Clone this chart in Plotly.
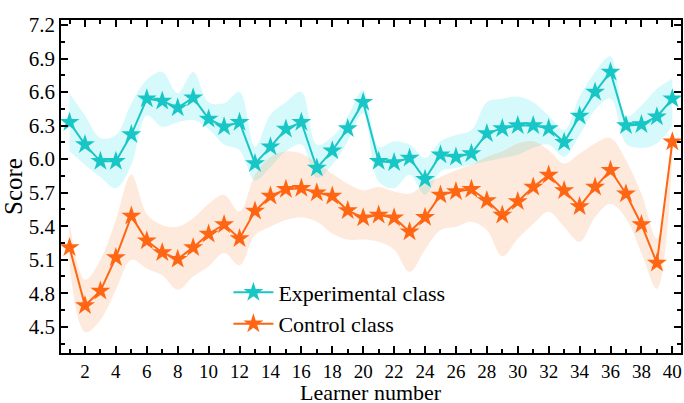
import plotly.graph_objects as go

learners = list(range(1, 41))

exp_scores = [6.33, 6.13, 5.98, 5.98, 6.22, 6.54, 6.52, 6.46, 6.55, 6.36,
              6.29, 6.33, 5.96, 6.11, 6.27, 6.33, 5.92, 6.075, 6.275, 6.51,
              5.98, 5.97, 6.01, 5.82, 6.04, 6.02, 6.05, 6.23, 6.275, 6.30,
              6.30, 6.275, 6.15, 6.385, 6.60, 6.78, 6.30, 6.31, 6.38, 6.54]

exp_upper = [6.59, 6.39, 6.19, 6.215, 6.50, 6.71, 6.78, 6.59, 6.78, 6.51,
             6.50, 6.60, 6.11, 6.40, 6.51, 6.60, 6.13, 6.20, 6.38, 6.62,
             6.11, 6.16, 6.13, 6.01, 6.16, 6.215, 6.26, 6.51, 6.54, 6.56,
             6.51, 6.39, 6.26, 6.56, 6.78, 6.92, 6.38, 6.48, 6.63, 6.72]

exp_lower = [6.07, 5.95, 5.84, 5.74, 5.95, 6.39, 6.29, 6.33, 6.35, 6.27,
             6.13, 6.08, 5.81, 5.93, 6.07, 6.13, 5.83, 5.95, 6.16, 6.41,
             5.80, 5.74, 5.86, 5.68, 5.89, 5.92, 5.95, 5.98, 6.01, 6.04,
             6.10, 6.13, 6.02, 6.215, 6.44, 6.54, 6.14, 6.10, 6.14, 6.30]

ctl_scores = [5.21, 4.69, 4.82, 5.12, 5.49, 5.27, 5.165, 5.105, 5.21, 5.33,
              5.415, 5.29, 5.535, 5.67, 5.73, 5.74, 5.70, 5.67, 5.54, 5.475,
              5.50, 5.475, 5.35, 5.48, 5.68, 5.71, 5.73, 5.63, 5.50, 5.62,
              5.75, 5.857, 5.72, 5.575, 5.75, 5.90, 5.69, 5.415, 5.07, 6.155]

ctl_upper = [5.44, 4.92, 5.10, 5.455, 5.86, 5.51, 5.41, 5.395, 5.47, 5.60,
             5.68, 5.53, 5.86, 6.02, 6.07, 6.05, 5.96, 5.87, 5.78, 5.72,
             5.75, 5.71, 5.69, 5.78, 5.84, 5.90, 5.95, 6.02, 6.07, 6.14,
             6.16, 6.08, 5.96, 6.05, 6.14, 6.19, 5.99, 5.69, 5.29, 6.28]

ctl_lower = [5.05, 4.45, 4.56, 4.83, 5.10, 5.02, 4.96, 4.83, 4.95, 5.04,
             5.16, 5.05, 5.32, 5.395, 5.455, 5.48, 5.44, 5.335, 5.28, 5.28,
             5.26, 5.19, 4.99, 5.19, 5.365, 5.395, 5.44, 5.365, 5.13, 5.29,
             5.42, 5.53, 5.395, 5.26, 5.48, 5.60, 5.47, 5.16, 4.84, 6.02]

series_names = ["Experimental class", "Control class"]
x_title = "Learner number"
y_title = "Score"
y_ticks = [4.5, 4.8, 5.1, 5.4, 5.7, 6.0, 6.3, 6.6, 6.9, 7.2]
x_ticks = list(range(2, 41, 2))

CYAN = "#19c6c6"
ORANGE = "#ff6614"
CYAN_FILL = "rgba(0,225,235,0.16)"
ORANGE_FILL = "rgba(245,140,60,0.18)"

fig = go.Figure()

for up, lo, fc in [(exp_upper, exp_lower, CYAN_FILL), (ctl_upper, ctl_lower, ORANGE_FILL)]:
    fig.add_trace(go.Scatter(x=learners, y=up, mode="lines",
                             line=dict(width=0, shape="spline", smoothing=1.0),
                             showlegend=False, hoverinfo="skip"))
    fig.add_trace(go.Scatter(x=learners, y=lo, mode="lines",
                             line=dict(width=0, shape="spline", smoothing=1.0),
                             fill="tonexty", fillcolor=fc,
                             showlegend=False, hoverinfo="skip"))

for name, vals, col in [(series_names[0], exp_scores, CYAN), (series_names[1], ctl_scores, ORANGE)]:
    fig.add_trace(go.Scatter(x=learners, y=vals, mode="lines+markers", name=name,
                             line=dict(color=col, width=2),
                             marker=dict(symbol="star", size=15, color=col,
                                         line=dict(width=0))))

font_family = "Liberation Serif"

fig.update_layout(
    width=684, height=403,
    margin=dict(l=61, r=3, t=20, b=50),
    paper_bgcolor="white", plot_bgcolor="white",
    font=dict(family=font_family, color="black", size=20),
    legend=dict(x=0.27, y=0.245, xanchor="left", yanchor="top",
                bgcolor="rgba(0,0,0,0)", font=dict(size=22, family=font_family),
                traceorder="normal", tracegroupgap=0, itemwidth=40),
    showlegend=True,
)

fig.add_annotation(text=x_title, xref="paper", yref="paper", x=0.5, y=-0.118,
                   xanchor="center", yanchor="middle", showarrow=False,
                   font=dict(size=22, family=font_family, color="black"))

fig.update_xaxes(
    range=[0.45, 40.56], tickmode="array", tickvals=x_ticks, automargin=False,
    ticks="inside", ticklen=7, tickwidth=1.5, tickcolor="black",
    showline=True, linecolor="black", linewidth=1.5, mirror="allticks",
    showgrid=False, zeroline=False,
    minor=dict(ticks="inside", ticklen=4, tickwidth=1.5, tickcolor="black",
               dtick=1, tick0=1, showgrid=False),
    tickfont=dict(size=19, family=font_family),
)

fig.update_yaxes(
    range=[4.265, 7.245], tickmode="array", tickvals=y_ticks, automargin=False,
    ticktext=[f"{v:.1f}" for v in y_ticks],
    ticks="inside", ticklen=7, tickwidth=1.5, tickcolor="black",
    showline=True, linecolor="black", linewidth=1.5, mirror="allticks",
    showgrid=False, zeroline=False,
    minor=dict(ticks="inside", ticklen=4, tickwidth=1.5, tickcolor="black",
               dtick=0.15, tick0=4.35, showgrid=False),
    tickfont=dict(size=21, family=font_family),
    title=dict(text=y_title, font=dict(size=25, family=font_family), standoff=4),
)

fig.write_html("out.html", config={"displayModeBar": False},
               post_script="document.body.style.margin='0';document.body.style.overflow='hidden';")
